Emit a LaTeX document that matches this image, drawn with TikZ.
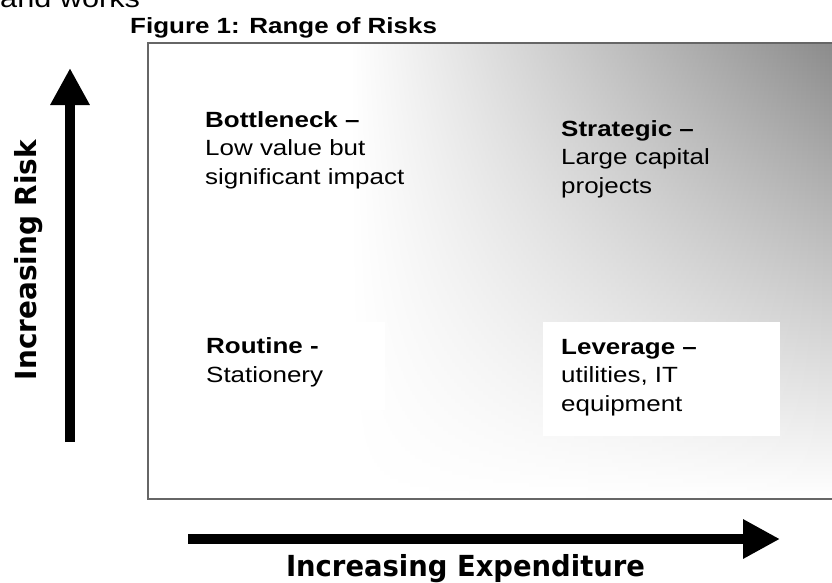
\documentclass[tikz,border=0pt]{standalone}
\usepackage{fontspec}
\setmainfont{Liberation Sans}
\newfontfamily\axisfont{DejaVu Sans}
\usetikzlibrary{arrows.meta}
\newcommand\stretched[1]{\scalebox{1.18}[1]{#1}}
\tikzset{
  bigarrow/.style={line width=10pt,-{Triangle[length=37pt,width=37pt]}},
  quadtext/.style={anchor=base west,align=left,inner sep=0pt,font=\fontsize{22}{28.5}\selectfont},
  axislabel/.style={inner sep=0pt,font=\axisfont\bfseries\fontsize{29}{34}\selectfont},
}
\begin{document}
\begin{tikzpicture}[x=1pt,y=-1pt]
\useasboundingbox (0,0) rectangle (832,582);

\node[anchor=base west,inner sep=0pt,font=\fontsize{26}{30}\selectfont] (andworks) at (0,7) {\stretched{and works}};
\node[anchor=base west,inner sep=0pt,font=\bfseries\fontsize{22}{26}\selectfont] (title) at (130,33) {\stretched{Figure 1: Range of Risks}};

% shaded matrix, strip by strip
\begin{scope}
\clip (148,43) rectangle (840,499);
\fill[white] (148,43) rectangle (840,499);
\foreach \y in {43,47,...,495}{
  \pgfmathsetmacro\shadeval{46*(1-(\y-43)/456)}
  \pgfmathsetmacro\midval{0.4*\shadeval}
  \shade[left color=white,middle color=black!\midval,right color=black!\shadeval] (350,\y) rectangle (840,\y+5);
}
\end{scope}
\draw[black!60,line width=1.8pt] (840,43) -- (148,43) -- (148,499) -- (840,499);

\fill[white] (200,322) rectangle (385,410);
\fill[white] (543,322) rectangle (780,436);

% base anchor sits on the last line
\node[quadtext] (bottleneck) at (205,184) {\stretched{\textbf{Bottleneck –}}\\\stretched{Low value but}\\\stretched{significant impact}};
\node[quadtext] (strategic) at (561,193) {\stretched{\textbf{Strategic –}}\\\stretched{Large capital}\\\stretched{projects}};
\node[quadtext] (routine) at (206,382) {\stretched{\textbf{Routine -}}\\\stretched{Stationery}};
\node[quadtext] (leverage) at (561,411) {\stretched{\textbf{Leverage –}}\\\stretched{utilities, IT}\\\stretched{equipment}};

% axes
\coordinate (riskfoot) at (70,442);
\coordinate (risktip) at (70,68);
\draw[bigarrow] (riskfoot) -- (risktip);
\node[axislabel,rotate=90,anchor=base] (risk) at (36,260) {\resizebox{240pt}{\height}{Increasing Risk}};

\coordinate (spendfoot) at (188,539);
\coordinate (spendtip) at (780,539);
\draw[bigarrow] (spendfoot) -- (spendtip);
\node[axislabel,anchor=base] (spend) at (465.5,576) {\resizebox{359pt}{\height}{Increasing Expenditure}};
\end{tikzpicture}
\end{document}
